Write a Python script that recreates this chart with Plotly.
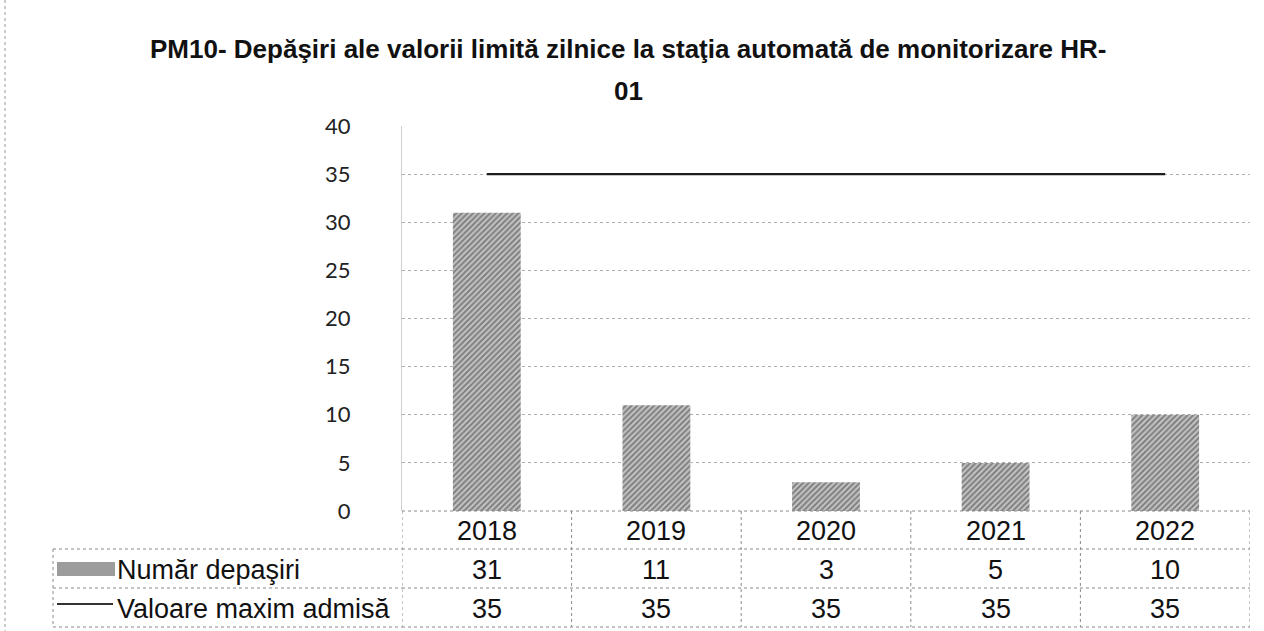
import plotly.graph_objects as go

# ---- data ----
years = ["2018", "2019", "2020", "2021", "2022"]
exceedances = [31, 11, 3, 5, 10]
limit_values = [35, 35, 35, 35, 35]
series_names = ["Număr depaşiri", "Valoare maxim admisă"]
title_lines = ["PM10- Depăşiri ale valorii limită zilnice la staţia automată de monitorizare HR-", "01"]
y_ticks = [0, 5, 10, 15, 20, 25, 30, 35, 40]

# ---- geometry (pixels) ----
W, H = 1264, 631
L, R, T, B = 402, 1250, 126, 511
pw, ph = R - L, B - T


def px_x(px):
    return (px - L) / pw


def px_y(py):
    return (B - py) / ph


fig = go.Figure()
fig.add_trace(go.Bar(
    x=years, y=exceedances, name=series_names[0], width=0.4,
    marker=dict(color="#a8a8a8", line=dict(width=0),
                pattern=dict(shape="/", fgcolor="#3a3a3a", bgcolor="#c4c4c4",
                             size=4, solidity=0.5)),
    showlegend=False,
))
fig.add_trace(go.Scatter(
    x=years, y=limit_values, name=series_names[1], mode="lines",
    line=dict(color="#1e1e1e", width=2.2), showlegend=False,
))

grid_color = "#b0b0b0"
fig.update_layout(
    width=W, height=H,
    margin=dict(l=L, r=W - R, t=T, b=H - B, pad=0),
    paper_bgcolor="white", plot_bgcolor="white",
    xaxis=dict(type="category", range=[-0.5, 4.5], showticklabels=False,
               showgrid=False, zeroline=False, showline=False, ticks=""),
    yaxis=dict(range=[0, 40], tickvals=y_ticks, showgrid=True,
               gridcolor=grid_color, griddash="dot", gridwidth=1,
               zeroline=False, showline=True, linecolor="#d0d0d0", linewidth=1,
               ticks="", ticklabelstandoff=46,
               tickfont=dict(family="Lato", size=22, color="#222")),
    bargap=0.6,
)

line_style = dict(color="#8a8a8a", width=1, dash="dot")
shapes = []
row_top, row1, row2, row_bot = 511, 549, 588, 627
legend_left = 53
for py in (row_top, row1, row2, row_bot):
    shapes.append(dict(type="line", xref="x", yref="paper", x0=-0.5, x1=4.5,
                       y0=px_y(py), y1=px_y(py), line=line_style))
for py in (row1, row2, row_bot):
    shapes.append(dict(type="line", xref="paper", yref="paper",
                       x0=px_x(legend_left), x1=0, y0=px_y(py), y1=px_y(py),
                       line=line_style))
shapes.append(dict(type="line", xref="paper", yref="paper",
                   x0=px_x(legend_left), x1=px_x(legend_left),
                   y0=px_y(row1), y1=px_y(row_bot), line=line_style))
for i in range(len(years) + 1):
    shapes.append(dict(type="line", xref="x", yref="paper", x0=i - 0.5, x1=i - 0.5,
                       y0=px_y(row_top), y1=px_y(row_bot), line=line_style))
# legend keys
shapes.append(dict(type="rect", xref="paper", yref="paper",
                   x0=px_x(57), x1=px_x(115), y0=px_y(576), y1=px_y(562),
                   fillcolor="#9c9c9c", line=dict(width=0)))
shapes.append(dict(type="line", xref="paper", yref="paper",
                   x0=px_x(57), x1=px_x(113), y0=px_y(604), y1=px_y(604),
                   line=dict(color="#333", width=2)))
# chart frame left border
shapes.append(dict(type="line", xref="paper", yref="paper",
                   x0=px_x(5), x1=px_x(5), y0=px_y(0), y1=px_y(H),
                   line=dict(color="#9a9a9a", width=1, dash="dot")))
fig.update_layout(shapes=shapes)

tf = dict(family="Liberation Sans", size=27, color="#111")
ann = []
row_centers = [(row_top + row1) / 2 + 1, (row1 + row2) / 2 + 1, (row2 + row_bot) / 2 + 1]
for i, yr in enumerate(years):
    for r, txt in enumerate([yr, str(exceedances[i]), str(limit_values[i])]):
        ann.append(dict(x=i, y=px_y(row_centers[r]), xref="x", yref="paper",
                        text=txt, showarrow=False, font=tf,
                        xanchor="center", yanchor="middle"))
for j, name in enumerate(series_names):
    ann.append(dict(x=px_x(115), y=px_y(row_centers[j + 1]), xref="paper", yref="paper",
                    text=name, showarrow=False, xanchor="left", yanchor="middle", font=tf))
# title lines
title_y = [49, 91]
for k, line in enumerate(title_lines):
    ann.append(dict(x=px_x(628), y=px_y(title_y[k]), xref="paper", yref="paper",
                    text="<b>" + line + "</b>", showarrow=False,
                    xanchor="center", yanchor="middle",
                    font=dict(family="Liberation Sans", size=26, color="#111")))
fig.update_layout(annotations=ann)

fig.write_html("out.html", config={"displayModeBar": False},
               post_script="document.body.style.margin='0';")
